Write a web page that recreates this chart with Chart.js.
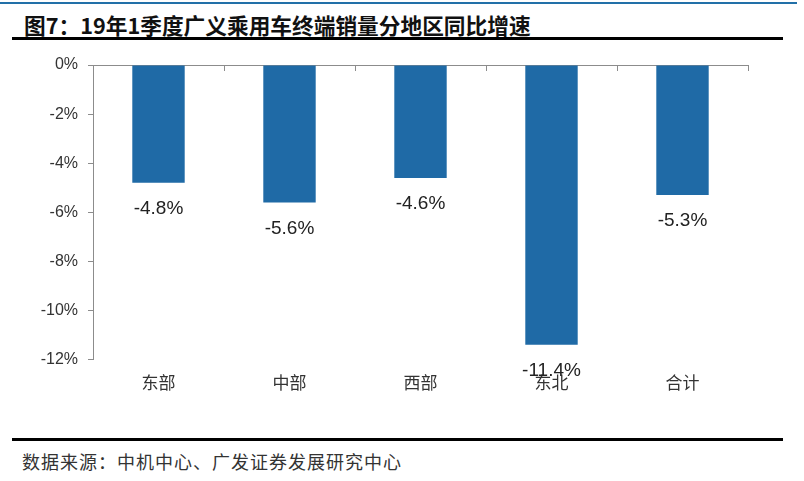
<!DOCTYPE html>
<html>
<head>
<meta charset="utf-8">
<script src="https://cdn.jsdelivr.net/npm/chart.js@4"></script>
<style>
  body { margin: 0; background: #fff; }
  #page { position: relative; width: 804px; height: 481px; overflow: hidden; }
  .rule { position: absolute; }
  #title {
    position: absolute; left: 24px; top: 9px; line-height: 22px;
    font: bold 21.7px "Noto Sans CJK SC", sans-serif; color: #111; white-space: nowrap;
  }
  #source {
    position: absolute; left: 22px; top: 448px; line-height: 20px;
    font: 18px "Noto Sans CJK SC", sans-serif; color: #333; letter-spacing: 1px; white-space: nowrap;
  }
  #wrap { position: absolute; left: 0; top: 40px; width: 804px; height: 395px; }
</style>
</head>
<body>
<div id="page">
  <div class="rule" style="left:0;top:2px;width:797px;height:2px;background:#2270a8"></div>
  <div id="title">图7：19年1季度广义乘用车终端销量分地区同比增速</div>
  <div class="rule" style="left:12px;top:37px;width:771px;height:3px;background:#000"></div>
  <div id="wrap"><canvas id="chart" width="804" height="395"></canvas></div>
  <div class="rule" style="left:12px;top:438px;width:771px;height:3px;background:#000"></div>
  <div id="source">数据来源：中机中心、广发证券发展研究中心</div>
</div>
<script>
const regions = ['东部', '中部', '西部', '东北', '合计'];
const growth = [-4.8, -5.6, -4.6, -11.4, -5.3];
const yTicks = [0, -2, -4, -6, -8, -10, -12];

const barColor = '#1f6aa6';
const axisColor = '#8c8c8c';
const textColor = '#333';

// labels under the end of each bar
const valueLabels = {
    id: 'valueLabels',
    afterDatasetsDraw(chart) {
        const ctx = chart.ctx;
        const meta = chart.getDatasetMeta(0);
        ctx.save();
        ctx.font = '19px "Liberation Sans", Arial, sans-serif';
        ctx.fillStyle = '#222';
        ctx.textAlign = 'center';
        ctx.textBaseline = 'middle';
        meta.data.forEach((bar, i) => {
            ctx.fillText(growth[i].toFixed(1) + '%', bar.x, bar.y + 26);
        });
        ctx.restore();
    }
};

new Chart(document.getElementById('chart'), {
    type: 'bar',
    data: {
        labels: regions,
        datasets: [{
            data: growth,
            backgroundColor: barColor,
            borderWidth: 0,
            barPercentage: 0.4,
            categoryPercentage: 1
        }]
    },
    plugins: [valueLabels],
    options: {
        responsive: false,
        animation: false,
        layout: { padding: { left: 0, top: 25, right: 56, bottom: 29 } },
        plugins: { legend: { display: false }, tooltip: { enabled: false } },
        scales: {
            x: {
                position: { y: 0 },
                offset: true,
                border: { color: axisColor, width: 1 },
                grid: { offset: true, drawOnChartArea: false, color: axisColor, tickLength: 5 },
                ticks: { display: false }
            },
            x2: {
                type: 'category',
                position: 'bottom',
                labels: regions,
                offset: true,
                border: { display: false },
                grid: { display: false, drawTicks: false },
                ticks: {
                    padding: 13,
                    color: textColor,
                    font: { family: '"Noto Sans CJK SC", sans-serif', size: 17 }
                }
            },
            y: {
                min: -12,
                max: 0,
                afterFit(scale) { scale.width = 93; },
                afterBuildTicks(scale) { scale.ticks = yTicks.map(v => ({ value: v })); },
                border: { color: axisColor, width: 1 },
                grid: { drawOnChartArea: false, color: axisColor, tickLength: 5 },
                ticks: {
                    padding: 10,
                    color: textColor,
                    font: { family: '"Liberation Sans", Arial, sans-serif', size: 16 },
                    callback: v => v + '%'
                }
            }
        }
    }
});
</script>
</body>
</html>
